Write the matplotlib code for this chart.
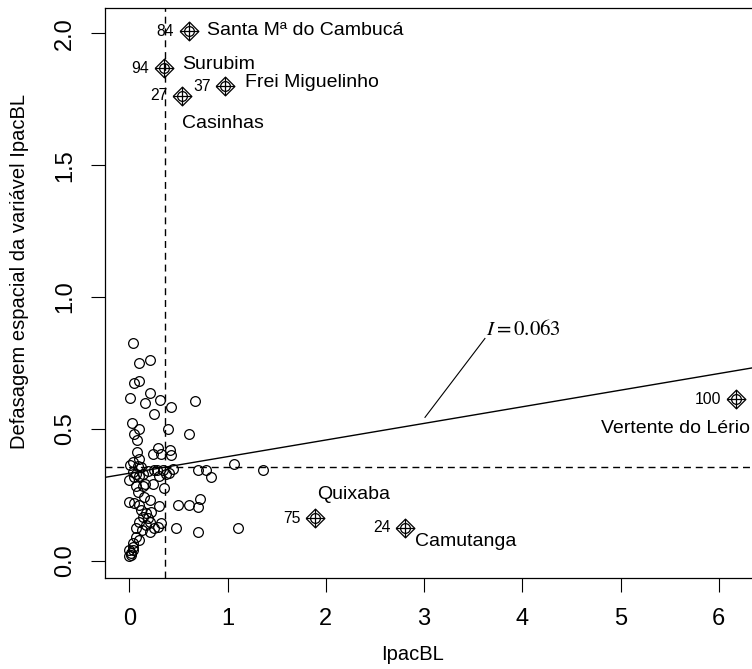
import numpy as np
import matplotlib
matplotlib.use("Agg")
import matplotlib.pyplot as plt

plt.rcParams['font.family'] = ['Liberation Sans', 'DejaVu Sans']

# Pontos comuns (IpacBL, defasagem espacial)
ipac = [0.043, 0.094, 0.213, 0.053, 0.094, 0.213, 0.009, 0.165, 0.315, 0.426,
        0.664, 0.256, 0.030, 0.094, 0.046, 0.076, 0.399, 0.613, 0.076, 0.104,
        0.290, 0.239, 0.325, 0.416, 0.426, 0.009, 0.036, 0.070, 0.104, 0.053,
        0.137, 0.188, 0.280, 0.376, 0.450, 0.704, 0.783, 0.834, 1.061, 1.359,
        0.165, 0.239, 0.358, 0.087, 0.137, 0.002, 0.053, 0.121, 0.172, 0.223,
        0.307, 0.501, 0.613, 0.697, 0.725, 0.104, 0.206, 0.290, 0.325, 0.477,
        0.704, 1.104, 0.070, 0.036, 0.002, 0.019, 0.104, 0.137, 0.256, 0.206,
        0.000, 0.036, 0.104, 0.188, 0.172, 0.256, 0.341, 0.070, 0.036, 0.019,
        0.087, 0.002, 0.155, 0.206, 0.124, 0.043, 0.073, 0.134, 0.409, 0.307]
lag = [0.824, 0.751, 0.761, 0.675, 0.681, 0.637, 0.618, 0.597, 0.609, 0.582,
       0.607, 0.555, 0.521, 0.499, 0.480, 0.458, 0.499, 0.480, 0.413, 0.385,
       0.426, 0.405, 0.405, 0.422, 0.401, 0.363, 0.338, 0.331, 0.321, 0.319,
       0.331, 0.341, 0.344, 0.331, 0.347, 0.344, 0.344, 0.316, 0.366, 0.344,
       0.291, 0.291, 0.275, 0.262, 0.283, 0.224, 0.218, 0.192, 0.182, 0.186,
       0.207, 0.211, 0.211, 0.205, 0.234, 0.148, 0.110, 0.129, 0.142, 0.125,
       0.110, 0.125, 0.091, 0.066, 0.041, 0.022, 0.078, 0.167, 0.123, 0.148,
       0.018, 0.041, 0.211, 0.161, 0.135, 0.344, 0.344, 0.124, 0.053, 0.029,
       0.359, 0.306, 0.242, 0.230, 0.355, 0.374, 0.283, 0.116, 0.333, 0.321]

# Pontos influentes
inf_id = ["84", "94", "27", "37", "75", "24", "100"]
inf_nome = ["Santa Mª do Cambucá", "Surubim", "Casinhas", "Frei Miguelinho",
            "Quixaba", "Camutanga", "Vertente do Lério"]
inf_x = [0.603, 0.351, 0.538, 0.979, 1.892, 2.811, 6.177]
inf_y = [2.008, 1.867, 1.763, 1.800, 0.161, 0.125, 0.613]

media_x = 0.368
media_y = 0.356
intercepto = 0.332
moran_i = 0.063

x_ticks = [0, 1, 2, 3, 4, 5, 6]
y_ticks = [0.0, 0.5, 1.0, 1.5, 2.0]

# deslocamento dos nomes em pixels (dx, dy para cima)
nome_off = [(18, 1), (18, 4), (0, -28), (20, 4), (2, 24), (10, -14), (-135, -29)]

W, H = 752, 669
fig = plt.figure(figsize=(W / 100, H / 100), dpi=100)
ax = fig.add_axes([105 / W, (H - 577.7) / H, (761 - 105) / W, (577.7 - 8) / H])

ax.plot(ipac, lag, 'o', ms=7, mfc='none', mec='black', mew=0.9, zorder=3)
ax.plot(inf_x, inf_y, 'o', ms=7, mfc='none', mec='black', mew=0.9, zorder=3)
diamante = [(-1, 0), (0, 1), (1, 0), (0, -1), (-1, 0)]
ax.plot(inf_x, inf_y, ls='none', marker=diamante, ms=13.5, mfc='none',
        mec='black', mew=0.9, zorder=3)
ax.plot(inf_x, inf_y, ls='none', marker='+', ms=13.5, mec='black', mew=0.9, zorder=3)

ax.axline((0, intercepto), slope=moran_i, color='black', lw=1.0)
ax.axvline(media_x, color='black', lw=1.0, ls=(0, (5, 3.5)))
ax.axhline(media_y, color='black', lw=1.0, ls=(0, (5, 3.5)))

for i in range(len(inf_id)):
    ax.annotate(inf_id[i], (inf_x[i], inf_y[i]), xytext=(-15, 0),
                textcoords='offset pixels', ha='right', va='center', fontsize=11.3)
    dx, dy = nome_off[i]
    ax.annotate(inf_nome[i], (inf_x[i], inf_y[i]), xytext=(dx, dy),
                textcoords='offset pixels', ha='left', va='center',
                fontsize=14, annotation_clip=False)

ax.plot([3.01, 3.62], [0.544, 0.843], color='black', lw=0.8)
ax.text(3.636, 0.879, r"$I = 0.063$", fontsize=15, math_fontfamily='stix',
        ha='left', va='center')

ax.set_xlim(-0.247, 6.43)
ax.set_ylim(-0.064, 2.096)
ax.set_xticks(x_ticks)
ax.set_xticklabels([str(v) for v in x_ticks])
ax.set_yticks(y_ticks)
ax.set_yticklabels([f"{v:.1f}" for v in y_ticks])
ax.tick_params(axis='both', length=10, width=0.8, labelsize=17, direction='out')
ax.tick_params(axis='x', pad=12)
ax.tick_params(axis='y', pad=11, labelrotation=90)
plt.setp(ax.get_yticklabels(), va='center')
for s in ax.spines.values():
    s.set_linewidth(0.9)

fig.text(412.5 / W, 1 - 655 / H, "IpacBL", fontsize=14.5, ha='center', va='center')
fig.text(20 / W, 1 - 271.5 / H, "Defasagem espacial da variável IpacBL", fontsize=14.5,
         rotation=90, ha='center', va='center')

fig.savefig("out.png", dpi=100)
